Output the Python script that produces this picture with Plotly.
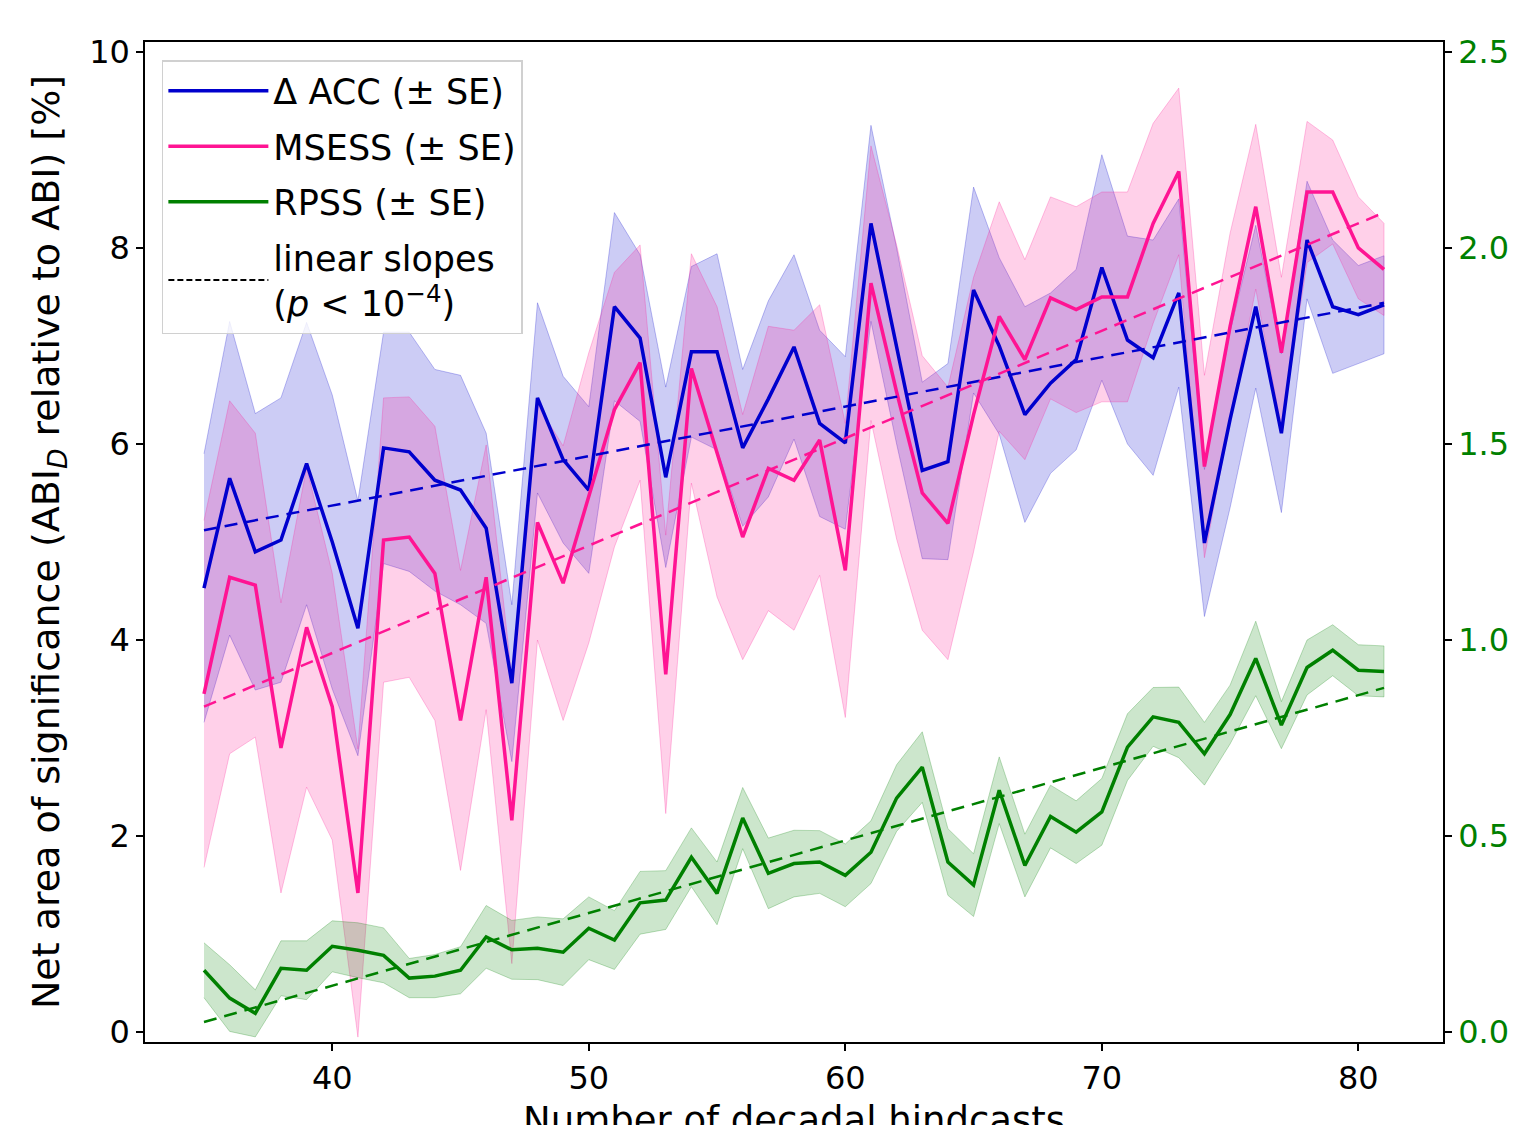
import plotly.graph_objects as go

# Number of decadal hindcasts
hindcasts = list(range(35, 82))

# Delta ACC (left axis, %) and its standard error
acc = [4.53, 5.65, 4.90, 5.02, 5.80, 5.00, 4.12, 5.96, 5.92, 5.63, 5.53, 5.14, 3.56, 6.47, 5.84, 5.53,
       7.40, 7.08, 5.66, 6.94, 6.94, 5.96, 6.46, 6.99, 6.21, 6.01, 8.25, 7.00, 5.73, 5.82, 7.57, 7.00,
       6.30, 6.62, 6.86, 7.80, 7.06, 6.88, 7.54, 4.99, 6.25, 7.40, 6.11, 8.08, 7.40, 7.32, 7.42]
acc_se = [1.37, 1.60, 1.41, 1.45, 1.44, 1.50, 1.30, 1.18, 1.22, 1.13, 1.17, 0.97, 0.80, 0.97, 0.85, 0.85,
          0.96, 0.85, 0.92, 0.87, 1.00, 0.80, 1.00, 0.94, 0.95, 0.88, 1.00, 1.00, 0.90, 1.00, 1.05, 0.90,
          1.10, 0.92, 0.92, 1.15, 1.06, 1.20, 0.96, 0.75, 0.90, 0.83, 0.81, 0.60, 0.68, 0.50, 0.50]

# MSESS (left axis, %)
msess = [3.45, 4.64, 4.56, 2.90, 4.13, 3.32, 1.42, 5.02, 5.05, 4.68, 3.18, 4.64, 2.16, 5.20, 4.58, 5.45,
         6.35, 6.83, 3.65, 6.77, 5.92, 5.05, 5.75, 5.63, 6.04, 4.71, 7.64, 6.53, 5.50, 5.19, 6.30, 7.30,
         6.86, 7.49, 7.37, 7.50, 7.50, 8.25, 8.78, 5.77, 7.20, 8.42, 6.93, 8.57, 8.57, 8.00, 7.78]
msess_se = [1.77, 1.80, 1.55, 1.48, 1.63, 1.36, 1.47, 1.45, 1.43, 1.50, 1.53, 1.35, 1.46, 1.20, 1.40, 1.48,
            1.40, 1.20, 1.42, 1.17, 1.48, 1.25, 1.45, 1.53, 1.38, 1.50, 1.40, 1.50, 1.40, 1.39, 1.40, 1.17,
            1.02, 1.03, 1.05, 1.07, 1.07, 1.02, 0.85, 0.93, 0.95, 0.84, 0.77, 0.72, 0.53, 0.52, 0.47]

# RPSS (right axis, %)
rpss = [0.158, 0.087, 0.048, 0.163, 0.158, 0.219, 0.209, 0.196, 0.138, 0.143, 0.158, 0.243, 0.210, 0.214,
        0.204, 0.265, 0.235, 0.330, 0.337, 0.446, 0.354, 0.546, 0.405, 0.430, 0.434, 0.400, 0.459, 0.597,
        0.676, 0.434, 0.375, 0.617, 0.425, 0.550, 0.510, 0.562, 0.727, 0.804, 0.790, 0.710, 0.810, 0.953,
        0.783, 0.930, 0.974, 0.923, 0.920]
rpss_se = [0.070, 0.085, 0.060, 0.070, 0.075, 0.065, 0.070, 0.070, 0.050, 0.055, 0.060, 0.080, 0.075, 0.080,
           0.085, 0.080, 0.075, 0.080, 0.075, 0.075, 0.080, 0.078, 0.090, 0.085, 0.080, 0.080, 0.080, 0.085,
           0.090, 0.085, 0.080, 0.085, 0.080, 0.080, 0.080, 0.085, 0.085, 0.075, 0.090, 0.080, 0.075, 0.095,
           0.060, 0.070, 0.065, 0.065, 0.065]

# linear slopes, start and end values (x = 35 and x = 81)
trend_x = [35, 81]
acc_trend = [5.12, 7.44]
msess_trend = [3.32, 8.36]
rpss_trend = [0.026, 0.878]

BLUE = '#0000CD'
PINK = '#FF1493'
GREEN = '#008000'
FONT = 'DejaVu Sans'

fig = go.Figure()


def add_band(mean, se, rgb, yaxis):
    upper = [m + s for m, s in zip(mean, se)]
    lower = [m - s for m, s in zip(mean, se)]
    fig.add_trace(go.Scatter(x=hindcasts + hindcasts[::-1], y=upper + lower[::-1],
                             fill='toself', fillcolor='rgba(%s,0.2)' % rgb,
                             line=dict(color='rgba(%s,0.25)' % rgb, width=1),
                             mode='lines', hoverinfo='skip', showlegend=False, yaxis=yaxis))


add_band(acc, acc_se, '0,0,205', 'y')
add_band(msess, msess_se, '255,20,147', 'y')

fig.add_trace(go.Scatter(x=hindcasts, y=acc, mode='lines', line=dict(color=BLUE, width=3.5),
                         name='Δ ACC (± SE)', legendgroup='acc'))
fig.add_trace(go.Scatter(x=hindcasts, y=msess, mode='lines', line=dict(color=PINK, width=3.5),
                         name='MSESS (± SE)', legendgroup='msess'))
fig.add_trace(go.Scatter(x=trend_x, y=acc_trend, mode='lines',
                         line=dict(color=BLUE, width=2.5, dash='13px,8px'), showlegend=False))
fig.add_trace(go.Scatter(x=trend_x, y=msess_trend, mode='lines',
                         line=dict(color=PINK, width=2.5, dash='13px,8px'), showlegend=False))

add_band(rpss, rpss_se, '0,128,0', 'y2')
fig.add_trace(go.Scatter(x=hindcasts, y=rpss, mode='lines', line=dict(color=GREEN, width=3.5),
                         name='RPSS (± SE)', yaxis='y2', legendgroup='rpss'))
fig.add_trace(go.Scatter(x=trend_x, y=rpss_trend, mode='lines',
                         line=dict(color=GREEN, width=2.5, dash='13px,8px'), showlegend=False, yaxis='y2'))

# legend entry for the dashed slopes
fig.add_trace(go.Scatter(x=[None], y=[None], mode='lines', line=dict(color='black', width=2, dash='6px,3px'),
                         name='linear slopes<br>(<i>p</i> < 10<sup>−4</sup>)', legendgroup='slopes'))

axis_common = dict(showline=True, linecolor='black', linewidth=1.5, ticks='outside', ticklen=7,
                   tickwidth=1.5, tickcolor='black', showgrid=False, zeroline=False)

# the page body adds an 8 px margin, so the figure is a bit smaller than the window
fig.update_layout(
    width=1511, height=1117,
    margin=dict(l=137, r=76, t=34, b=83),
    paper_bgcolor='white', plot_bgcolor='white',
    font=dict(family=FONT, size=32, color='black'),
    xaxis=dict(range=[32.7, 83.3], tickvals=[40, 50, 60, 70, 80], mirror=True, automargin=False,
               **axis_common),
    yaxis=dict(range=[-0.1, 10.1], tickvals=[0, 2, 4, 6, 8, 10],
               title=dict(text='Net area of significance (ABI<sub><i>D</i></sub> relative to ABI) [%]',
                          standoff=18), **axis_common),
    yaxis2=dict(range=[-0.025, 2.525], tickvals=[0, 0.5, 1.0, 1.5, 2.0, 2.5], tickformat='.1f',
                overlaying='y', side='right', tickfont=dict(color=GREEN), automargin=False, **axis_common),
    legend=dict(x=0.013, y=0.982, xanchor='left', yanchor='top', bgcolor='rgba(255,255,255,0.8)',
                bordercolor='#d0d0d0', borderwidth=1.5, font=dict(size=35), tracegroupgap=7,
                itemwidth=100),
)

# x axis title, placed like the original where it runs into the bottom edge
fig.add_annotation(text='Number of decadal hindcasts', xref='paper', yref='paper', x=0.5, y=-0.078,
                   xanchor='center', yanchor='middle', showarrow=False,
                   font=dict(family=FONT, size=37, color='black'))

fig.write_html("out.html")
